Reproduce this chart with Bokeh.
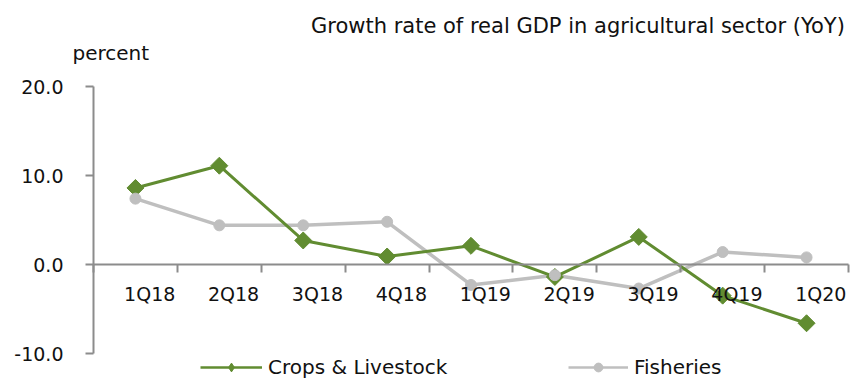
import math
from bokeh.plotting import figure
from bokeh.models import (Range1d, FixedTicker, LinearAxis, PrintfTickFormatter,
                          Label, Legend, LegendItem, ColumnDataSource)
from bokeh.embed import file_html
from bokeh.resources import INLINE

# ---- data ----
quarters = ["1Q18", "2Q18", "3Q18", "4Q18", "1Q19", "2Q19", "3Q19", "4Q19", "1Q20"]
crops_livestock = [8.6, 11.1, 2.7, 0.9, 2.1, -1.4, 3.1, -3.5, -6.6]
fisheries = [7.4, 4.4, 4.4, 4.8, -2.3, -1.2, -2.7, 1.4, 0.8]
y_ticks = [-10, 0, 10, 20]

title_text = "Growth rate of real GDP  in agricultural sector (YoY)"
unit_text = "percent"

GREEN = "#618C31"
GRAY = "#BFBFBF"
AXIS = "#8C8C8C"
TXT = "#111111"
FONT = "DejaVu Sans"

n = len(quarters)
xs = [i + 0.5 for i in range(n)]
src = ColumnDataSource(dict(x=xs, crops=crops_livestock, fish=fisheries))

W, H = 850, 380
# pixel layout of the plotting area (page pixels)
X0_PX, XN_PX = 93, 848          # x = 0 and x = n
Y_TOP_PX, Y_BOT_PX = 86, 353    # y = 20 and y = -10
sx = (XN_PX - X0_PX) / n
sy = (Y_BOT_PX - Y_TOP_PX) / (max(y_ticks) - min(y_ticks))
y0_px = Y_TOP_PX + max(y_ticks) * sy
x_range = Range1d(-X0_PX / sx, (W - X0_PX) / sx)
y_range = Range1d((y0_px - H) / sy, y0_px / sy)

p = figure(width=W, height=H, output_backend="svg", toolbar_location=None,
           x_range=x_range, y_range=y_range,
           min_border_left=0, min_border_right=0, min_border_top=0, min_border_bottom=0,
           x_axis_location=None, y_axis_location=None)
p.outline_line_color = None
p.grid.visible = False
p.background_fill_color = "white"
p.border_fill_color = "white"

# y axis, placed at x = 0
ya = LinearAxis(ticker=FixedTicker(ticks=y_ticks), formatter=PrintfTickFormatter(format="%.1f"),
                bounds=(min(y_ticks), max(y_ticks)))
ya.fixed_location = 0
ya.axis_line_color = AXIS
ya.axis_line_width = 2
ya.major_tick_line_color = AXIS
ya.major_tick_line_width = 2
ya.major_tick_out = 8
ya.major_tick_in = 0
ya.minor_tick_line_color = None
ya.major_label_standoff = 22
ya.major_label_text_font = FONT
ya.major_label_text_font_size = "19px"
ya.major_label_text_color = TXT
p.add_layout(ya, "left")

# x axis line with boundary ticks, located at y = 0
xa = LinearAxis(ticker=FixedTicker(ticks=list(range(n + 1))), bounds=(0, n))
xa.fixed_location = 0
xa.axis_line_color = AXIS
xa.axis_line_width = 2
xa.major_tick_line_color = AXIS
xa.major_tick_line_width = 2
xa.major_tick_out = 8
xa.major_tick_in = 0
xa.minor_tick_line_color = None
xa.major_label_text_color = None
p.add_layout(xa, "below")

# category labels
shift = 0.17
label_ticks = [i + 0.5 + shift for i in range(n)]
xl = LinearAxis(ticker=FixedTicker(ticks=label_ticks),
                major_label_overrides={t: q for t, q in zip(label_ticks, quarters)})
xl.fixed_location = 0
xl.axis_line_color = None
xl.major_tick_line_color = None
xl.minor_tick_line_color = None
xl.major_tick_out = 0
xl.major_tick_in = 0
xl.major_label_standoff = 18
xl.major_label_text_font = FONT
xl.major_label_text_font_size = "19px"
xl.major_label_text_color = TXT
p.add_layout(xl, "below")

# series
p.line("x", "fish", source=src, line_color=GRAY, line_width=3.5)
p.line("x", "crops", source=src, line_color=GREEN, line_width=3)
p.scatter("x", "crops", source=src, marker="square", angle=math.pi / 4, size=12,
          fill_color=GREEN, line_color=GREEN)
p.scatter("x", "fish", source=src, marker="circle", size=11, fill_color=GRAY, line_color=GRAY)

# legend swatches (hidden renderers, drawn only in the legend)
lg1 = p.line("x", "crops", source=src, line_color=GREEN, line_width=2.5, visible=False)
lm1 = p.scatter("x", "crops", source=src, marker="diamond", fill_color=GREEN,
                line_color=GREEN, visible=False)
lg2 = p.line("x", "fish", source=src, line_color=GRAY, line_width=2.5, visible=False)
lm2 = p.scatter("x", "fish", source=src, marker="circle", fill_color=GRAY,
                line_color=GRAY, visible=False)

def make_legend(label, rs, loc, gw):
    lg = Legend(items=[LegendItem(label=label, renderers=rs, index=0)], location=loc,
                orientation="horizontal", padding=0, margin=0, spacing=0,
                glyph_width=gw, glyph_height=22, label_height=22, label_standoff=6,
                border_line_color=None, background_fill_alpha=0, inactive_fill_alpha=0,
                label_text_font=FONT, label_text_font_size="20px", label_text_color=TXT)
    p.add_layout(lg, "center")

make_legend("Crops & Livestock", [lg1, lm1], (200, 1), 62)
make_legend("Fisheries", [lg2, lm2], (568, 1), 60)

# title and unit
p.add_layout(Label(x=851, y=H - 25, x_units="screen", y_units="screen", text=title_text,
                   text_align="right", text_baseline="middle", text_font=FONT,
                   text_font_size="21px", text_color=TXT))
p.add_layout(Label(x=72, y=H - 52, x_units="screen", y_units="screen", text=unit_text,
                   text_align="left", text_baseline="middle", text_font=FONT,
                   text_font_size="20px", text_color=TXT))

open("out.html", "w").write(file_html(p, INLINE))
